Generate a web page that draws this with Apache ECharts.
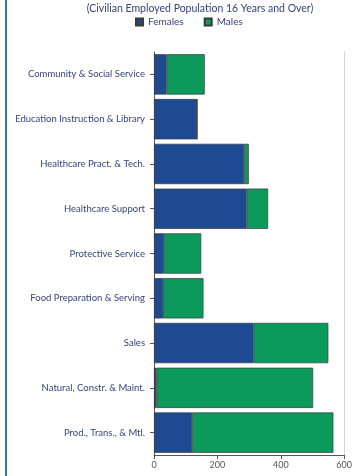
<!DOCTYPE html>
<html>
<head>
<meta charset="utf-8">
<script src="https://cdn.jsdelivr.net/npm/echarts@6/dist/echarts.min.js"></script>
<style>
  html, body { margin: 0; padding: 0; background: #fff; }
  #chart { width: 355px; height: 476px; }
  .frame { position: absolute; left: 5px; top: 0; width: 2px; height: 476px; background: #3d6fbf; }
</style>
</head>
<body>
<div id="chart"></div>
<div class="frame"></div>
<script>
// occupations, top to bottom
const categories = [
  "Community & Social Service",
  "Education Instruction & Library",
  "Healthcare Pract. & Tech.",
  "Healthcare Support",
  "Protective Service",
  "Food Preparation & Serving",
  "Sales",
  "Natural, Constr. & Maint.",
  "Prod., Trans., & Mtl."
];
const females = [39, 136, 284, 292, 31, 29, 314, 8, 120];
const males = [121, 0, 15, 68, 118, 127, 236, 494, 446];
const xTicks = [0, 200, 400, 600];

const textColor = "#34457a";
const chart = echarts.init(document.getElementById("chart"));

chart.setOption({
  animation: false,
  textStyle: { fontFamily: "Lato" },
  title: {
    text: "(Civilian Employed Population 16 Years and Over)",
    left: 195,
    top: -2,
    textAlign: "center",
    textStyle: { fontSize: 10.5, fontWeight: "normal", color: textColor }
  },
  legend: {
    data: ["Females", "Males"],
    left: 130,
    top: 12,
    itemWidth: 7,
    itemHeight: 7,
    itemGap: 20,
    icon: "rect",
    textStyle: { fontSize: 10, color: textColor }
  },
  grid: { left: 154, right: 5, top: 52, bottom: 21, containLabel: false },
  xAxis: {
    type: "value",
    min: xTicks[0],
    max: xTicks[xTicks.length - 1],
    interval: 200,
    axisLine: { show: true, lineStyle: { color: "#555" } },
    axisTick: { show: true, length: 4, lineStyle: { color: "#555" } },
    axisLabel: { color: "#555", fontSize: 9, margin: 6 },
    splitLine: { show: false }
  },
  yAxis: [
    {
      type: "category",
      data: categories,
      inverse: true,
      axisLine: { show: true, lineStyle: { color: "#555" } },
      axisTick: { show: true, length: 4, alignWithLabel: true, lineStyle: { color: "#555" } },
      axisLabel: { color: textColor, fontSize: 9.5, margin: 9 }
    },
    {
      type: "category",
      data: categories,
      inverse: true,
      position: "right",
      axisLine: { show: true, lineStyle: { color: "#ccc", type: "dotted" } },
      axisTick: { show: false },
      axisLabel: { show: false }
    }
  ],
  series: [
    {
      name: "Females",
      type: "bar",
      stack: "total",
      data: females,
      barCategoryGap: "10%",
      itemStyle: { color: "#1e4a94", borderColor: "#3a3a3a", borderWidth: 0.7 }
    },
    {
      name: "Males",
      type: "bar",
      stack: "total",
      data: males,
      barCategoryGap: "10%",
      itemStyle: { color: "#0b9a5c", borderColor: "#3a3a3a", borderWidth: 0.7 }
    }
  ]
});
</script>
</body>
</html>
